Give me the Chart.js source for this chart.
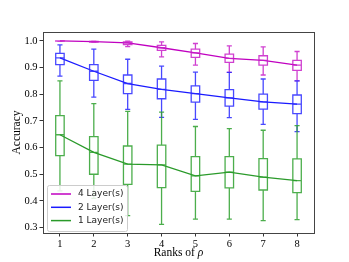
<!DOCTYPE html>
<html><head><meta charset="utf-8">
<script src="https://cdn.jsdelivr.net/npm/chart.js@4/dist/chart.umd.min.js"></script>
<style>html,body{margin:0;padding:0;background:#fff}#c{display:block}</style>
</head><body>
<canvas id="c" width="349" height="262"></canvas>
<script>
const ranks = [1,2,3,4,5,6,7,8];
const yTickValues = [0.3,0.4,0.5,0.6,0.7,0.8,0.9,1.0];
const seriesLabels = ['4 Layer(s)','2 Layer(s)','1 Layer(s)'];
const xTitleText = 'Ranks of ';
const xTitleSymbol = 'ρ';

const l4Min = [0.998,0.994,0.978,0.940,0.909,0.882,0.872,0.850];
const l4Q1  = [0.999,0.995,0.986,0.964,0.938,0.919,0.909,0.889];
const l4Med = [1.000,0.997,0.992,0.974,0.955,0.934,0.927,0.909];
const l4Q3  = [1.000,0.998,0.996,0.983,0.969,0.950,0.944,0.927];
const l4Max = [1.000,0.999,0.999,0.996,0.990,0.981,0.977,0.960];

const l2Min = [0.868,0.789,0.743,0.713,0.706,0.712,0.687,0.660];
const l2Q1  = [0.911,0.852,0.802,0.783,0.770,0.755,0.744,0.727];
const l2Med = [0.936,0.886,0.840,0.818,0.802,0.786,0.771,0.763];
const l2Q3  = [0.953,0.911,0.872,0.857,0.831,0.817,0.800,0.797];
const l2Max = [0.985,0.969,0.931,0.905,0.883,0.882,0.857,0.850];

const l1Min = [0.438,0.410,0.345,0.312,0.332,0.332,0.326,0.330];
const l1Q1  = [0.570,0.500,0.462,0.450,0.436,0.449,0.441,0.431];
const l1Med = [0.648,0.582,0.538,0.535,0.494,0.508,0.489,0.476];
const l1Q3  = [0.720,0.641,0.606,0.609,0.566,0.566,0.559,0.558];
const l1Max = [0.850,0.765,0.736,0.733,0.679,0.671,0.665,0.682];

const lineColors = ['#c000c0','#1a1aff','#2a9a2a'];
const boxColors = ['rgba(200,30,200,0.85)','rgba(40,40,255,0.85)','rgba(45,160,45,0.85)'];
const boxStats = [
  {min:l4Min,q1:l4Q1,med:l4Med,q3:l4Q3,max:l4Max},
  {min:l2Min,q1:l2Q1,med:l2Med,q3:l2Q3,max:l2Max},
  {min:l1Min,q1:l1Q1,med:l1Med,q3:l1Q3,max:l1Max}
];

const boxPlugin = {
  id:'boxes',
  afterDatasetsDraw(chart){
    const ctx = chart.ctx, xs = chart.scales.x, ys = chart.scales.y;
    const halfBox = 0.125, halfCap = 0.075;
    ctx.save();
    boxStats.forEach((s,si)=>{
      ctx.strokeStyle = boxColors[si];
      ctx.lineWidth = 1.3;
      ranks.forEach((r,i)=>{
        const xl = xs.getPixelForValue(r-halfBox), xr = xs.getPixelForValue(r+halfBox);
        const xc = xs.getPixelForValue(r);
        const cl = xs.getPixelForValue(r-halfCap), cr = xs.getPixelForValue(r+halfCap);
        const yMin = ys.getPixelForValue(s.min[i]), yQ1 = ys.getPixelForValue(s.q1[i]);
        const yMed = ys.getPixelForValue(s.med[i]), yQ3 = ys.getPixelForValue(s.q3[i]);
        const yMax = ys.getPixelForValue(s.max[i]);
        ctx.beginPath();
        ctx.rect(xl, yQ3, xr-xl, yQ1-yQ3);
        ctx.moveTo(xl,yMed); ctx.lineTo(xr,yMed);
        ctx.moveTo(xc,yQ1); ctx.lineTo(xc,yMin);
        ctx.moveTo(xc,yQ3); ctx.lineTo(xc,yMax);
        ctx.moveTo(cl,yMin); ctx.lineTo(cr,yMin);
        ctx.moveTo(cl,yMax); ctx.lineTo(cr,yMax);
        ctx.stroke();
      });
    });
    ctx.restore();
  }
};

const framePlugin = {
  id:'frame',
  afterDraw(chart){
    const ctx = chart.ctx, a = chart.chartArea;
    ctx.save();
    ctx.strokeStyle = '#444';
    ctx.lineWidth = 1;
    ctx.strokeRect(Math.round(a.left)+0.5, Math.round(a.top)+0.5, Math.round(a.right-a.left), Math.round(a.bottom-a.top));
    // x title with italic symbol
    const f1 = '11.5px "Liberation Serif"', f2 = 'italic 11.5px "Liberation Serif"';
    ctx.font = f1; const w1 = ctx.measureText(xTitleText).width;
    ctx.font = f2; const w2 = ctx.measureText(xTitleSymbol).width;
    const cx = (a.left + a.right)/2;
    const tx = cx - (w1+w2)/2, ty = 253;
    ctx.fillStyle = '#000';
    ctx.textBaseline = 'middle';
    ctx.textAlign = 'left';
    ctx.font = f1; ctx.fillText(xTitleText, tx, ty);
    ctx.font = f2; ctx.fillText(xTitleSymbol, tx + w1, ty);
    // legend
    const lx = 47, ly = 185, lw = 80, lh = 46;
    ctx.fillStyle = 'rgba(255,255,255,0.85)';
    ctx.strokeStyle = '#cccccc';
    ctx.beginPath();
    ctx.roundRect(lx+0.5, ly+0.5, lw, lh, 2);
    ctx.fill(); ctx.stroke();
    ctx.font = '9px "DejaVu Sans"';
    seriesLabels.forEach((lab,i)=>{
      const y = 194 + i*13.3;
      ctx.strokeStyle = lineColors[i];
      ctx.lineWidth = 1.5;
      ctx.beginPath(); ctx.moveTo(51,y); ctx.lineTo(71,y); ctx.stroke();
      ctx.fillStyle = '#222';
      ctx.fillText(lab, 78, y);
    });
    ctx.restore();
  }
};

const medSets = [l4Med,l2Med,l1Med];
new Chart(document.getElementById('c'), {
  type:'line',
  data:{
    datasets: medSets.map((m,si)=>({
      label: seriesLabels[si],
      data: ranks.map((r,i)=>({x:r,y:m[i]})),
      borderColor: lineColors[si],
      borderWidth: 1.3,
      pointRadius: 0,
      tension: 0,
      fill:false
    }))
  },
  options:{
    responsive:false,
    animation:false,
    layout:{padding:{top:32,right:35,left:0,bottom:0}},
    plugins:{legend:{display:false},tooltip:{enabled:false}},
    scales:{
      x:{
        type:'linear', min:0.5, max:8.5,
        afterBuildTicks:s=>{s.ticks = ranks.map(v=>({value:v}));},
        afterFit:s=>{s.height = 29;},
        grid:{drawOnChartArea:false, color:'#000', tickLength:3.5, tickWidth:0.8},
        border:{display:false},
        ticks:{color:'#000', padding:1, font:{family:'"Liberation Serif"', size:10.5}, callback:v=>String(v)},
        title:{display:false}
      },
      y:{
        type:'linear', min:0.28, max:1.033,
        afterBuildTicks:s=>{s.ticks = yTickValues.map(v=>({value:v}));},
        afterFit:s=>{s.width = 43;},
        grid:{drawOnChartArea:false, color:'#000', tickLength:3.5, tickWidth:0.8},
        border:{display:false},
        ticks:{color:'#000', padding:2, font:{family:'"Liberation Serif"', size:10.5}, callback:v=>v.toFixed(1)},
        title:{display:true, text:'Accuracy', color:'#000', padding:{top:10,bottom:0}, font:{family:'"Liberation Serif"', size:11.5}}
      }
    }
  },
  plugins:[boxPlugin, framePlugin]
});
</script>
</body></html>
